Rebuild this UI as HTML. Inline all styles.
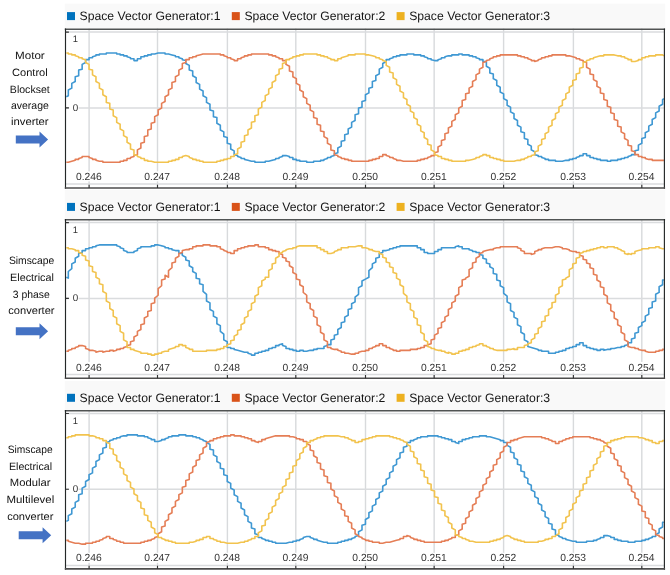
<!DOCTYPE html>
<html><head><meta charset="utf-8"><title>Space Vector Generator comparison</title>
<style>
html,body{margin:0;padding:0;background:#fff;}
body{width:670px;height:575px;position:relative;overflow:hidden;font-family:"Liberation Sans",sans-serif;}
svg text{font-family:"Liberation Sans",sans-serif;text-rendering:geometricPrecision;}
.tk{font-size:10.3px;fill:#333;}
.lg{font-size:12.2px;fill:#161616;}
.sd{font-size:10.6px;fill:#111;}
</style></head><body>
<svg width="670" height="575" viewBox="0 0 670 575" style="position:absolute;left:0;top:0;will-change:transform">
<rect x="64.8" y="3.60" width="600.40" height="25.40" fill="#f9f9f9"/>
<rect x="65" y="28.50" width="600" height="159.50" fill="#fff"/>
<path d="M89.10 28.50V188.00M157.50 28.50V188.00M227.40 28.50V188.00M295.80 28.50V188.00M365.50 28.50V188.00M434.15 28.50V188.00M503.60 28.50V188.00M573.40 28.50V188.00M641.80 28.50V188.00" stroke="#d8dadc" stroke-width="1.4" fill="none"/>
<path d="M65 32.10H665M65 107.90H665M65 184.10H665" stroke="#dadcde" stroke-width="1.5" fill="none"/>
<rect x="76.10" y="171.40" width="26" height="10" fill="#fff"/>
<rect x="144.50" y="171.40" width="26" height="10" fill="#fff"/>
<rect x="214.40" y="171.40" width="26" height="10" fill="#fff"/>
<rect x="282.80" y="171.40" width="26" height="10" fill="#fff"/>
<rect x="352.50" y="171.40" width="26" height="10" fill="#fff"/>
<rect x="421.15" y="171.40" width="26" height="10" fill="#fff"/>
<rect x="490.60" y="171.40" width="26" height="10" fill="#fff"/>
<rect x="560.40" y="171.40" width="26" height="10" fill="#fff"/>
<rect x="628.80" y="171.40" width="26" height="10" fill="#fff"/>
<rect x="69.2" y="103.00" width="9.4" height="9.6" fill="#fff"/>
<path d="M66.30 96.70L68.32 95.75L68.32 90.05L71.77 88.15L71.78 83.40L75.23 81.50L75.23 76.75L78.68 75.80L78.69 70.10L82.14 69.15L82.14 64.40L85.59 62.50L85.59 59.65L89.05 59.65L89.05 57.75L92.50 57.75L92.50 56.80L95.96 55.85L95.96 54.90L99.41 54.90L99.41 53.95L102.87 53.95L102.87 53.95L106.33 53.95L106.32 53.00L109.78 53.00L109.78 53.00L113.23 53.00L113.23 53.00L116.69 53.00L116.69 53.95L120.14 53.95L120.14 54.90L123.60 54.90L123.60 55.85L127.05 55.85L127.06 56.80L130.51 57.75L130.51 58.70L133.97 58.70L133.97 60.60L137.42 60.60L137.42 58.70L140.88 58.70L140.88 56.80L144.33 56.80L144.33 55.85L147.78 55.85L147.78 54.90L151.24 54.90L151.24 53.95L154.70 53.95L154.69 53.95L158.15 53.00L158.15 53.00L161.60 53.00L161.61 53.00L165.06 53.00L165.06 53.95L168.52 53.95L168.51 53.95L171.97 54.90L171.97 54.90L175.43 55.85L175.43 56.80L178.88 56.80L178.88 57.75L182.34 58.70L182.33 59.65L185.79 60.60L185.79 63.45L189.25 65.35L189.25 70.10L192.70 71.05L192.70 75.80L196.16 77.70L196.16 82.45L199.61 84.35L199.61 89.10L203.07 91.00L203.06 95.75L206.52 97.65L206.52 102.40L209.97 104.30L209.97 110.00L213.43 110.95L213.43 116.65L216.89 117.60L216.88 123.30L220.34 125.20L220.34 129.95L223.79 131.85L223.80 136.60L227.25 137.55L227.25 143.25L230.71 144.20L230.70 148.95L234.16 150.85L234.16 154.65L237.62 155.60L237.62 156.55L241.07 157.50L241.07 158.45L244.53 158.45L244.52 159.40L247.98 160.35L247.98 160.35L251.44 161.30L251.44 161.30L254.89 161.30L254.89 162.25L258.34 162.25L258.35 162.25L261.80 162.25L261.80 162.25L265.25 162.25L265.25 161.30L268.71 161.30L268.71 161.30L272.16 160.35L272.17 160.35L275.62 159.40L275.62 158.45L279.07 158.45L279.07 157.50L282.53 156.55L282.53 155.60L285.99 155.60L285.99 155.60L289.44 156.55L289.44 157.50L292.89 157.50L292.89 159.40L296.35 159.40L296.35 160.35L299.81 160.35L299.81 161.30L303.26 161.30L303.26 161.30L306.71 161.30L306.71 162.25L310.17 162.25L310.17 162.25L313.62 162.25L313.62 161.30L317.08 161.30L317.08 161.30L320.53 161.30L320.54 160.35L323.99 160.35L323.99 159.40L327.44 158.45L327.44 157.50L330.90 157.50L330.90 156.55L334.35 155.60L334.36 153.70L337.81 152.75L337.81 148.00L341.26 146.10L341.26 141.35L344.72 140.40L344.72 134.70L348.18 133.75L348.18 129.00L351.63 127.10L351.63 122.35L355.08 120.45L355.09 114.75L358.54 113.80L358.54 108.10L362.00 107.15L362.00 101.45L365.45 100.50L365.45 94.80L368.90 92.90L368.91 88.15L372.36 87.20L372.36 81.50L375.81 80.55L375.81 75.80L379.27 73.90L379.27 69.15L382.73 67.25L382.73 63.45L386.18 61.55L386.18 59.65L389.63 59.65L389.63 58.70L393.09 57.75L393.09 56.80L396.55 56.80L396.55 55.85L400.00 55.85L400.00 54.90L403.45 54.90L403.46 54.90L406.91 54.90L406.91 53.95L410.37 53.95L410.37 53.95L413.82 53.95L413.82 54.90L417.27 54.90L417.28 54.90L420.73 54.90L420.73 55.85L424.19 55.85L424.19 56.80L427.64 57.75L427.64 58.70L431.10 58.70L431.10 59.65L434.55 60.60L434.55 60.60L438.00 60.60L438.00 59.65L441.46 58.70L441.46 57.75L444.92 57.75L444.92 56.80L448.37 55.85L448.37 55.85L451.82 55.85L451.83 54.90L455.28 54.90L455.28 54.90L458.74 54.90L458.74 53.95L462.19 53.95L462.19 54.90L465.64 54.90L465.65 54.90L469.10 54.90L469.10 55.85L472.56 55.85L472.56 56.80L476.01 56.80L476.01 57.75L479.47 58.70L479.47 59.65L482.92 59.65L482.92 61.55L486.38 61.55L486.38 66.30L489.83 68.20L489.83 72.95L493.29 73.90L493.29 78.65L496.74 80.55L496.74 85.30L500.19 87.20L500.19 91.95L503.65 93.85L503.65 98.60L507.11 100.50L507.11 105.25L510.56 107.15L510.56 111.90L514.01 113.80L514.01 118.55L517.47 120.45L517.47 125.20L520.93 127.10L520.92 131.85L524.38 132.80L524.38 138.50L527.84 139.45L527.84 144.20L531.29 146.10L531.29 149.90L534.75 151.80L534.75 154.65L538.20 155.60L538.20 156.55L541.66 156.55L541.65 157.50L545.11 158.45L545.11 159.40L548.57 159.40L548.56 160.35L552.02 160.35L552.02 160.35L555.48 160.35L555.48 161.30L558.93 161.30L558.93 161.30L562.38 161.30L562.38 161.30L565.84 160.35L565.84 160.35L569.30 160.35L569.29 159.40L572.75 159.40L572.75 158.45L576.21 158.45L576.21 157.50L579.66 156.55L579.66 155.60L583.12 155.60L583.12 153.70L586.57 153.70L586.57 155.60L590.02 155.60L590.02 157.50L593.48 157.50L593.48 158.45L596.94 158.45L596.93 159.40L600.39 159.40L600.39 160.35L603.85 160.35L603.84 160.35L607.30 160.35L607.30 161.30L610.75 161.30L610.75 160.35L614.21 160.35L614.21 160.35L617.66 160.35L617.66 159.40L621.12 159.40L621.12 158.45L624.58 158.45L624.57 157.50L628.03 157.50L628.03 156.55L631.49 155.60L631.49 154.65L634.94 154.65L634.94 150.85L638.39 149.90L638.39 145.15L641.85 143.25L641.85 138.50L645.30 137.55L645.30 132.80L648.76 130.90L648.76 126.15L652.22 124.25L652.21 119.50L655.67 117.60L655.67 112.85L659.12 110.95L659.12 106.20L662.58 104.30L662.58 99.55L663.90 98.60" stroke="#3f98d3" stroke-width="1.6" fill="none" stroke-linejoin="round"/>
<path d="M66.30 162.25L68.32 162.25L68.32 162.25L71.77 161.30L71.78 161.30L75.23 160.35L75.23 159.40L78.68 159.40L78.69 158.45L82.14 157.50L82.14 156.55L85.59 156.55L85.59 156.55L89.05 156.55L89.05 157.50L92.50 158.45L92.50 159.40L95.96 159.40L95.96 160.35L99.41 161.30L99.41 161.30L102.87 161.30L102.87 162.25L106.33 162.25L106.32 162.25L109.78 162.25L109.78 162.25L113.23 162.25L113.23 162.25L116.69 162.25L116.69 162.25L120.14 162.25L120.14 161.30L123.60 161.30L123.60 160.35L127.05 160.35L127.06 158.45L130.51 158.45L130.51 157.50L133.97 156.55L133.97 155.60L137.42 154.65L137.42 149.90L140.88 148.00L140.88 143.25L144.33 142.30L144.33 136.60L147.78 135.65L147.78 129.95L151.24 129.00L151.24 123.30L154.70 122.35L154.69 116.65L158.15 114.75L158.15 110.00L161.60 108.10L161.61 103.35L165.06 101.45L165.06 96.70L168.52 94.80L168.51 90.05L171.97 88.15L171.97 82.45L175.43 81.50L175.43 76.75L178.88 74.85L178.88 70.10L182.34 68.20L182.33 63.45L185.79 62.50L185.79 59.65L189.25 59.65L189.25 57.75L192.70 57.75L192.70 56.80L196.16 56.80L196.16 55.85L199.61 54.90L199.61 54.90L203.07 53.95L203.06 53.95L206.52 53.95L206.52 53.95L209.97 53.95L209.97 53.95L213.43 53.95L213.43 53.95L216.89 53.95L216.88 53.95L220.34 53.95L220.34 54.90L223.79 54.90L223.80 55.85L227.25 56.80L227.25 57.75L230.71 57.75L230.70 58.70L234.16 59.65L234.16 60.60L237.62 60.60L237.62 58.70L241.07 58.70L241.07 57.75L244.53 56.80L244.52 55.85L247.98 55.85L247.98 54.90L251.44 54.90L251.44 53.95L254.89 53.95L254.89 53.95L258.34 53.95L258.35 53.95L261.80 53.95L261.80 53.95L265.25 53.95L265.25 53.95L268.71 53.95L268.71 54.90L272.16 54.90L272.17 55.85L275.62 55.85L275.62 56.80L279.07 57.75L279.07 58.70L282.53 58.70L282.53 60.60L285.99 60.60L285.99 64.40L289.44 66.30L289.44 71.05L292.89 72.00L292.89 76.75L296.35 78.65L296.35 83.40L299.81 85.30L299.81 90.05L303.26 91.95L303.26 96.70L306.71 98.60L306.71 103.35L310.17 105.25L310.17 110.00L313.62 111.90L313.62 117.60L317.08 118.55L317.08 124.25L320.53 125.20L320.54 130.90L323.99 131.85L323.99 136.60L327.44 138.50L327.44 143.25L330.90 145.15L330.90 149.90L334.35 150.85L334.36 154.65L337.81 155.60L337.81 156.55L341.26 157.50L341.26 158.45L344.72 158.45L344.72 159.40L348.18 159.40L348.18 160.35L351.63 160.35L351.63 161.30L355.08 161.30L355.09 161.30L358.54 161.30L358.54 161.30L362.00 161.30L362.00 161.30L365.45 161.30L365.45 161.30L368.90 161.30L368.91 160.35L372.36 160.35L372.36 159.40L375.81 159.40L375.81 158.45L379.27 158.45L379.27 156.55L382.73 156.55L382.73 154.65L386.18 154.65L386.18 155.60L389.63 156.55L389.63 157.50L393.09 157.50L393.09 158.45L396.55 159.40L396.55 160.35L400.00 160.35L400.00 160.35L403.45 161.30L403.46 161.30L406.91 161.30L406.91 161.30L410.37 161.30L410.37 161.30L413.82 161.30L413.82 161.30L417.27 161.30L417.28 160.35L420.73 160.35L420.73 159.40L424.19 159.40L424.19 158.45L427.64 158.45L427.64 157.50L431.10 156.55L431.10 155.60L434.55 155.60L434.55 152.75L438.00 151.80L438.00 147.05L441.46 145.15L441.46 140.40L444.92 139.45L444.92 133.75L448.37 132.80L448.37 128.05L451.82 126.15L451.83 121.40L455.28 119.50L455.28 114.75L458.74 112.85L458.74 108.10L462.19 106.20L462.19 100.50L465.64 99.55L465.65 93.85L469.10 92.90L469.10 88.15L472.56 86.25L472.56 81.50L476.01 79.60L476.01 74.85L479.47 72.95L479.47 69.15L482.92 67.25L482.92 62.50L486.38 61.55L486.38 60.60L489.83 59.65L489.83 58.70L493.29 57.75L493.29 56.80L496.74 56.80L496.74 55.85L500.19 55.85L500.19 54.90L503.65 54.90L503.65 54.90L507.11 54.90L507.11 54.90L510.56 54.90L510.56 54.90L514.01 54.90L514.01 54.90L517.47 54.90L517.47 55.85L520.93 55.85L520.92 56.80L524.38 56.80L524.38 57.75L527.84 57.75L527.84 58.70L531.29 59.65L531.29 60.60L534.75 60.60L534.75 61.55L538.20 60.60L538.20 59.65L541.66 58.70L541.65 57.75L545.11 57.75L545.11 56.80L548.57 56.80L548.56 55.85L552.02 55.85L552.02 54.90L555.48 54.90L555.48 54.90L558.93 54.90L558.93 54.90L562.38 54.90L562.38 54.90L565.84 54.90L565.84 55.85L569.30 55.85L569.29 55.85L572.75 56.80L572.75 56.80L576.21 57.75L576.21 58.70L579.66 58.70L579.66 59.65L583.12 60.60L583.12 61.55L586.57 62.50L586.57 67.25L590.02 69.15L590.02 73.90L593.48 74.85L593.48 79.60L596.94 81.50L596.93 86.25L600.39 88.15L600.39 92.90L603.85 93.85L603.84 99.55L607.30 100.50L607.30 106.20L610.75 107.15L610.75 112.85L614.21 113.80L614.21 119.50L617.66 120.45L617.66 126.15L621.12 127.10L621.12 131.85L624.58 133.75L624.57 138.50L628.03 140.40L628.03 145.15L631.49 146.10L631.49 150.85L634.94 151.80L634.94 154.65L638.39 154.65L638.39 156.55L641.85 156.55L641.85 157.50L645.30 157.50L645.30 158.45L648.76 159.40L648.76 159.40L652.22 159.40L652.21 160.35L655.67 160.35L655.67 160.35L659.12 160.35L659.12 160.35L662.58 160.35L662.58 160.35L663.90 160.35" stroke="#e57e56" stroke-width="1.6" fill="none" stroke-linejoin="round"/>
<path d="M66.30 53.00L68.32 53.00L68.32 53.95L71.77 53.95L71.78 54.90L75.23 54.90L75.23 55.85L78.68 56.80L78.69 57.75L82.14 57.75L82.14 58.70L85.59 59.65L85.59 62.50L89.05 64.40L89.05 69.15L92.50 70.10L92.50 74.85L95.96 76.75L95.96 81.50L99.41 83.40L99.41 88.15L102.87 90.05L102.87 94.80L106.33 96.70L106.32 102.40L109.78 103.35L109.78 109.05L113.23 110.00L113.23 115.70L116.69 117.60L116.69 122.35L120.14 124.25L120.14 129.00L123.60 130.90L123.60 135.65L127.05 137.55L127.06 142.30L130.51 144.20L130.51 148.95L133.97 149.90L133.97 154.65L137.42 155.60L137.42 156.55L140.88 157.50L140.88 158.45L144.33 158.45L144.33 160.35L147.78 160.35L147.78 161.30L151.24 161.30L151.24 161.30L154.70 162.25L154.69 162.25L158.15 162.25L158.15 162.25L161.60 162.25L161.61 162.25L165.06 162.25L165.06 162.25L168.52 162.25L168.51 161.30L171.97 161.30L171.97 160.35L175.43 160.35L175.43 159.40L178.88 159.40L178.88 157.50L182.34 157.50L182.33 156.55L185.79 155.60L185.79 155.60L189.25 156.55L189.25 157.50L192.70 158.45L192.70 159.40L196.16 159.40L196.16 160.35L199.61 160.35L199.61 161.30L203.07 161.30L203.06 162.25L206.52 162.25L206.52 162.25L209.97 162.25L209.97 162.25L213.43 162.25L213.43 162.25L216.89 162.25L216.88 161.30L220.34 161.30L220.34 160.35L223.79 160.35L223.80 159.40L227.25 159.40L227.25 158.45L230.71 158.45L230.70 156.55L234.16 156.55L234.16 154.65L237.62 153.70L237.62 148.95L241.07 147.05L241.07 142.30L244.53 141.35L244.52 135.65L247.98 134.70L247.98 129.95L251.44 128.05L251.44 122.35L254.89 121.40L254.89 115.70L258.34 114.75L258.35 109.05L261.80 107.15L261.80 102.40L265.25 100.50L265.25 95.75L268.71 93.85L268.71 89.10L272.16 87.20L272.17 82.45L275.62 80.55L275.62 75.80L279.07 73.90L279.07 69.15L282.53 68.20L282.53 63.45L285.99 62.50L285.99 59.65L289.44 59.65L289.44 58.70L292.89 57.75L292.89 56.80L296.35 56.80L296.35 55.85L299.81 55.85L299.81 54.90L303.26 54.90L303.26 53.95L306.71 53.95L306.71 53.95L310.17 53.95L310.17 53.95L313.62 53.95L313.62 53.95L317.08 53.95L317.08 54.90L320.53 54.90L320.54 55.85L323.99 55.85L323.99 56.80L327.44 56.80L327.44 57.75L330.90 58.70L330.90 59.65L334.35 59.65L334.36 60.60L337.81 60.60L337.81 58.70L341.26 58.70L341.26 57.75L344.72 56.80L344.72 56.80L348.18 55.85L348.18 54.90L351.63 54.90L351.63 54.90L355.08 54.90L355.09 53.95L358.54 53.95L358.54 53.95L362.00 53.95L362.00 53.95L365.45 53.95L365.45 54.90L368.90 54.90L368.91 54.90L372.36 55.85L372.36 55.85L375.81 56.80L375.81 57.75L379.27 57.75L379.27 58.70L382.73 59.65L382.73 60.60L386.18 61.55L386.18 65.35L389.63 67.25L389.63 72.00L393.09 72.95L393.09 77.70L396.55 79.60L396.55 84.35L400.00 86.25L400.00 91.00L403.45 92.90L403.46 97.65L406.91 99.55L406.91 104.30L410.37 106.20L410.37 110.95L413.82 112.85L413.82 117.60L417.27 119.50L417.28 124.25L420.73 126.15L420.73 130.90L424.19 132.80L424.19 137.55L427.64 139.45L427.64 144.20L431.10 145.15L431.10 149.90L434.55 151.80L434.55 154.65L438.00 155.60L438.00 156.55L441.46 156.55L441.46 158.45L444.92 158.45L444.92 159.40L448.37 159.40L448.37 160.35L451.82 160.35L451.83 161.30L455.28 161.30L455.28 161.30L458.74 161.30L458.74 161.30L462.19 161.30L462.19 161.30L465.64 161.30L465.65 160.35L469.10 160.35L469.10 160.35L472.56 159.40L472.56 159.40L476.01 158.45L476.01 157.50L479.47 157.50L479.47 156.55L482.92 155.60L482.92 154.65L486.38 154.65L486.38 155.60L489.83 155.60L489.83 157.50L493.29 157.50L493.29 158.45L496.74 158.45L496.74 159.40L500.19 159.40L500.19 160.35L503.65 160.35L503.65 161.30L507.11 161.30L507.11 161.30L510.56 161.30L510.56 161.30L514.01 161.30L514.01 161.30L517.47 160.35L517.47 160.35L520.93 160.35L520.92 159.40L524.38 159.40L524.38 158.45L527.84 157.50L527.84 156.55L531.29 156.55L531.29 155.60L534.75 154.65L534.75 151.80L538.20 150.85L538.20 146.10L541.66 144.20L541.65 139.45L545.11 138.50L545.11 133.75L548.57 131.85L548.56 127.10L552.02 125.20L552.02 120.45L555.48 118.55L555.48 113.80L558.93 111.90L558.93 107.15L562.38 105.25L562.38 100.50L565.84 98.60L565.84 93.85L569.30 91.95L569.29 87.20L572.75 85.30L572.75 80.55L576.21 79.60L576.21 73.90L579.66 72.95L579.66 68.20L583.12 67.25L583.12 62.50L586.57 61.55L586.57 60.60L590.02 59.65L590.02 58.70L593.48 58.70L593.48 57.75L596.94 56.80L596.93 56.80L600.39 55.85L600.39 55.85L603.85 55.85L603.84 54.90L607.30 54.90L607.30 54.90L610.75 54.90L610.75 54.90L614.21 54.90L614.21 54.90L617.66 55.85L617.66 55.85L621.12 55.85L621.12 56.80L624.58 56.80L624.57 57.75L628.03 58.70L628.03 59.65L631.49 59.65L631.49 61.55L634.94 61.55L634.94 61.55L638.39 60.60L638.39 59.65L641.85 59.65L641.85 57.75L645.30 57.75L645.30 56.80L648.76 56.80L648.76 55.85L652.22 55.85L652.21 55.85L655.67 55.85L655.67 54.90L659.12 54.90L659.12 54.90L662.58 54.90L662.58 54.90L663.90 55.85" stroke="#f2c34e" stroke-width="1.6" fill="none" stroke-linejoin="round"/>
<path d="M64.8 29.25H665.1" stroke="#505353" stroke-width="1.5" fill="none"/>
<path d="M65.5 28.50V188.80M664.4 28.50V188.80" stroke="#242727" stroke-width="1.15" fill="none"/>
<path d="M64.8 188.00H665.1" stroke="#4d4d4d" stroke-width="1.7" fill="none"/>
<path d="M89.10 184.80V188.00M157.50 184.80V188.00M227.40 184.80V188.00M295.80 184.80V188.00M365.50 184.80V188.00M434.15 184.80V188.00M503.60 184.80V188.00M573.40 184.80V188.00M641.80 184.80V188.00M65.5 32.10H68.9M65.5 107.90H68.9" stroke="#333" stroke-width="1.1" fill="none"/>
<text x="88.80" y="180.00" text-anchor="middle" class="tk">0.246</text>
<text x="157.20" y="180.00" text-anchor="middle" class="tk">0.247</text>
<text x="227.10" y="180.00" text-anchor="middle" class="tk">0.248</text>
<text x="295.50" y="180.00" text-anchor="middle" class="tk">0.249</text>
<text x="365.20" y="180.00" text-anchor="middle" class="tk">0.250</text>
<text x="433.85" y="180.00" text-anchor="middle" class="tk">0.251</text>
<text x="503.30" y="180.00" text-anchor="middle" class="tk">0.252</text>
<text x="573.10" y="180.00" text-anchor="middle" class="tk">0.253</text>
<text x="641.50" y="180.00" text-anchor="middle" class="tk">0.254</text>
<text x="72.8" y="42.30" class="tk" style="font-size:9.4px">1</text>
<text x="72.7" y="110.60" class="tk" style="font-size:9.8px">0</text>
<rect x="67.00" y="12.10" width="8" height="8" fill="#0072BD"/>
<text x="79.60" y="20.30" class="lg">Space Vector Generator:1</text>
<rect x="231.80" y="12.10" width="8" height="8" fill="#D95319"/>
<text x="244.40" y="20.30" class="lg">Space Vector Generator:2</text>
<rect x="396.60" y="12.10" width="8" height="8" fill="#EDB120"/>
<text x="409.20" y="20.30" class="lg">Space Vector Generator:3</text>
<rect x="64.8" y="190.00" width="600.40" height="29.50" fill="#f9f9f9"/>
<rect x="65" y="219.00" width="600" height="159.25" fill="#fff"/>
<path d="M89.10 219.00V378.25M157.50 219.00V378.25M227.40 219.00V378.25M295.80 219.00V378.25M365.50 219.00V378.25M434.15 219.00V378.25M503.60 219.00V378.25M573.40 219.00V378.25M641.80 219.00V378.25" stroke="#d8dadc" stroke-width="1.4" fill="none"/>
<path d="M65 222.60H665M65 298.40H665M65 374.60H665" stroke="#dadcde" stroke-width="1.5" fill="none"/>
<rect x="76.10" y="361.90" width="26" height="10" fill="#fff"/>
<rect x="144.50" y="361.90" width="26" height="10" fill="#fff"/>
<rect x="214.40" y="361.90" width="26" height="10" fill="#fff"/>
<rect x="282.80" y="361.90" width="26" height="10" fill="#fff"/>
<rect x="352.50" y="361.90" width="26" height="10" fill="#fff"/>
<rect x="421.15" y="361.90" width="26" height="10" fill="#fff"/>
<rect x="490.60" y="361.90" width="26" height="10" fill="#fff"/>
<rect x="560.40" y="361.90" width="26" height="10" fill="#fff"/>
<rect x="628.80" y="361.90" width="26" height="10" fill="#fff"/>
<rect x="69.2" y="293.50" width="9.4" height="9.6" fill="#fff"/>
<path d="M66.30 277.20L68.32 278.15L68.32 271.50L71.77 268.65L71.78 263.90L75.23 262.00L75.23 258.20L78.68 256.30L78.69 253.45L82.14 252.50L82.14 250.60L85.59 250.60L85.59 248.70L89.05 248.70L89.05 247.75L92.50 247.75L92.50 246.80L95.96 246.80L95.96 245.85L99.41 244.90L99.41 244.90L102.87 244.90L102.87 244.90L106.33 244.90L106.32 244.90L109.78 244.90L109.78 244.90L113.23 244.90L113.23 244.90L116.69 244.90L116.69 245.85L120.14 246.80L120.14 247.75L123.60 248.70L123.60 250.60L127.05 251.55L127.06 252.50L130.51 252.50L130.51 252.50L133.97 252.50L133.97 251.55L137.42 250.60L137.42 248.70L140.88 247.75L140.88 246.80L144.33 246.80L144.33 246.80L147.78 246.80L147.78 246.80L151.24 246.80L151.24 245.85L154.70 245.85L154.69 244.90L158.15 244.90L158.15 244.90L161.60 245.85L161.61 245.85L165.06 246.80L165.06 247.75L168.52 247.75L168.51 248.70L171.97 248.70L171.97 249.65L175.43 250.60L175.43 250.60L178.88 250.60L178.88 253.45L182.34 253.45L182.33 255.35L185.79 257.25L185.79 260.10L189.25 261.05L189.25 265.80L192.70 267.70L192.70 271.50L196.16 273.40L196.16 278.15L199.61 279.10L199.61 283.85L203.07 284.80L203.06 291.45L206.52 294.30L206.52 300.95L209.97 302.85L209.97 309.50L213.43 311.40L213.43 316.15L216.89 318.05L216.88 323.75L220.34 325.65L220.34 331.35L223.79 334.20L223.80 339.90L227.25 341.80L227.25 347.50L230.71 347.50L230.70 348.45L234.16 348.45L234.16 349.40L237.62 350.35L237.62 350.35L241.07 351.30L241.07 351.30L244.53 352.25L244.52 352.25L247.98 352.25L247.98 353.20L251.44 354.15L251.44 355.10L254.89 355.10L254.89 353.20L258.34 353.20L258.35 352.25L261.80 352.25L261.80 351.30L265.25 351.30L265.25 350.35L268.71 350.35L268.71 348.45L272.16 348.45L272.17 347.50L275.62 347.50L275.62 345.60L279.07 345.60L279.07 344.65L282.53 343.70L282.53 345.60L285.99 346.55L285.99 348.45L289.44 348.45L289.44 349.40L292.89 349.40L292.89 350.35L296.35 350.35L296.35 351.30L299.81 351.30L299.81 350.35L303.26 350.35L303.26 351.30L306.71 351.30L306.71 351.30L310.17 350.35L310.17 350.35L313.62 350.35L313.62 349.40L317.08 349.40L317.08 348.45L320.53 348.45L320.54 348.45L323.99 348.45L323.99 346.55L327.44 345.60L327.44 344.65L330.90 344.65L330.90 339.90L334.35 338.95L334.36 335.15L337.81 334.20L337.81 329.45L341.26 327.55L341.26 322.80L344.72 321.85L344.72 317.10L348.18 315.20L348.18 309.50L351.63 308.55L351.63 303.80L355.08 301.90L355.09 297.15L358.54 294.30L358.54 287.65L362.00 285.75L362.00 281.00L365.45 279.10L365.45 279.10L368.90 277.20L368.91 270.55L372.36 267.70L372.36 263.90L375.81 262.00L375.81 258.20L379.27 257.25L379.27 253.45L382.73 252.50L382.73 250.60L386.18 250.60L386.18 250.60L389.63 249.65L389.63 248.70L393.09 248.70L393.09 247.75L396.55 247.75L396.55 246.80L400.00 246.80L400.00 245.85L403.45 245.85L403.46 245.85L406.91 245.85L406.91 245.85L410.37 245.85L410.37 245.85L413.82 245.85L413.82 245.85L417.27 245.85L417.28 247.75L420.73 247.75L420.73 249.65L424.19 249.65L424.19 252.50L427.64 252.50L427.64 253.45L431.10 253.45L431.10 253.45L434.55 253.45L434.55 251.55L438.00 251.55L438.00 249.65L441.46 249.65L441.46 247.75L444.92 247.75L444.92 247.75L448.37 247.75L448.37 247.75L451.82 247.75L451.83 247.75L455.28 247.75L455.28 246.80L458.74 245.85L458.74 246.80L462.19 246.80L462.19 248.70L465.64 248.70L465.65 248.70L469.10 248.70L469.10 249.65L472.56 250.60L472.56 251.55L476.01 251.55L476.01 252.50L479.47 252.50L479.47 254.40L482.92 255.35L482.92 258.20L486.38 259.15L486.38 262.95L489.83 263.90L489.83 266.75L493.29 268.65L493.29 273.40L496.74 274.35L496.74 280.05L500.19 281.00L500.19 285.75L503.65 287.65L503.65 293.35L507.11 296.20L507.11 301.90L510.56 303.80L510.56 310.45L514.01 312.35L514.01 317.10L517.47 319.00L517.47 324.70L520.93 326.60L520.92 332.30L524.38 334.20L524.38 339.90L527.84 341.80L527.84 346.55L531.29 347.50L531.29 347.50L534.75 348.45L534.75 348.45L538.20 349.40L538.20 350.35L541.66 350.35L541.65 351.30L545.11 351.30L545.11 351.30L548.57 351.30L548.56 353.20L552.02 353.20L552.02 353.20L555.48 353.20L555.48 352.25L558.93 352.25L558.93 351.30L562.38 351.30L562.38 350.35L565.84 350.35L565.84 348.45L569.30 348.45L569.29 347.50L572.75 347.50L572.75 346.55L576.21 346.55L576.21 344.65L579.66 344.65L579.66 342.75L583.12 342.75L583.12 345.60L586.57 345.60L586.57 347.50L590.02 347.50L590.02 348.45L593.48 348.45L593.48 349.40L596.94 349.40L596.93 350.35L600.39 350.35L600.39 349.40L603.85 349.40L603.84 350.35L607.30 349.40L607.30 349.40L610.75 349.40L610.75 348.45L614.21 348.45L614.21 348.45L617.66 347.50L617.66 347.50L621.12 347.50L621.12 346.55L624.58 346.55L624.57 345.60L628.03 344.65L628.03 342.75L631.49 342.75L631.49 338.95L634.94 338.00L634.94 333.25L638.39 332.30L638.39 327.55L641.85 325.65L641.85 322.80L645.30 320.90L645.30 316.15L648.76 314.25L648.76 308.55L652.22 307.60L652.21 301.90L655.67 300.95L655.67 294.30L659.12 292.40L659.12 286.70L662.58 284.80L662.58 280.05L663.90 280.05" stroke="#3f98d3" stroke-width="1.6" fill="none" stroke-linejoin="round"/>
<path d="M66.30 351.30L68.32 351.30L68.32 350.35L71.77 349.40L71.78 348.45L75.23 348.45L75.23 347.50L78.68 346.55L78.69 345.60L82.14 345.60L82.14 345.60L85.59 346.55L85.59 348.45L89.05 349.40L89.05 350.35L92.50 350.35L92.50 350.35L95.96 351.30L95.96 352.25L99.41 351.30L99.41 351.30L102.87 351.30L102.87 352.25L106.33 351.30L106.32 351.30L109.78 351.30L109.78 350.35L113.23 350.35L113.23 351.30L116.69 350.35L116.69 349.40L120.14 349.40L120.14 348.45L123.60 348.45L123.60 347.50L127.05 346.55L127.06 345.60L130.51 344.65L130.51 341.80L133.97 340.85L133.97 337.05L137.42 335.15L137.42 331.35L140.88 329.45L140.88 324.70L144.33 323.75L144.33 318.05L147.78 316.15L147.78 311.40L151.24 310.45L151.24 303.80L154.70 302.85L154.69 298.10L158.15 295.25L158.15 288.60L161.60 285.75L161.61 280.05L165.06 279.10L165.06 275.30L168.52 277.20L168.51 270.55L171.97 267.70L171.97 262.95L175.43 262.00L175.43 258.20L178.88 256.30L178.88 253.45L182.34 252.50L182.33 250.60L185.79 249.65L185.79 249.65L189.25 249.65L189.25 248.70L192.70 248.70L192.70 246.80L196.16 246.80L196.16 245.85L199.61 245.85L199.61 245.85L203.07 245.85L203.06 244.90L206.52 244.90L206.52 244.90L209.97 244.90L209.97 245.85L213.43 245.85L213.43 245.85L216.89 245.85L216.88 246.80L220.34 246.80L220.34 248.70L223.79 249.65L223.80 250.60L227.25 251.55L227.25 252.50L230.71 252.50L230.70 253.45L234.16 253.45L234.16 250.60L237.62 250.60L237.62 248.70L241.07 248.70L241.07 247.75L244.53 247.75L244.52 246.80L247.98 246.80L247.98 245.85L251.44 245.85L251.44 245.85L254.89 245.85L254.89 244.90L258.34 244.90L258.35 246.80L261.80 246.80L261.80 246.80L265.25 246.80L265.25 247.75L268.71 247.75L268.71 249.65L272.16 249.65L272.17 250.60L275.62 250.60L275.62 251.55L279.07 251.55L279.07 253.45L282.53 254.40L282.53 257.25L285.99 258.20L285.99 261.05L289.44 262.00L289.44 265.80L292.89 267.70L292.89 272.45L296.35 274.35L296.35 279.10L299.81 280.05L299.81 284.80L303.26 286.70L303.26 292.40L306.71 295.25L306.71 301.90L310.17 303.80L310.17 308.55L313.62 310.45L313.62 316.15L317.08 318.05L317.08 324.70L320.53 326.60L320.54 332.30L323.99 334.20L323.99 339.90L327.44 341.80L327.44 347.50L330.90 347.50L330.90 348.45L334.35 349.40L334.36 349.40L337.81 349.40L337.81 350.35L341.26 351.30L341.26 352.25L344.72 352.25L344.72 353.20L348.18 353.20L348.18 353.20L351.63 354.15L351.63 354.15L355.08 354.15L355.09 353.20L358.54 353.20L358.54 352.25L362.00 351.30L362.00 351.30L365.45 351.30L365.45 350.35L368.90 350.35L368.91 348.45L372.36 348.45L372.36 347.50L375.81 346.55L375.81 345.60L379.27 345.60L379.27 343.70L382.73 343.70L382.73 345.60L386.18 345.60L386.18 347.50L389.63 347.50L389.63 348.45L393.09 349.40L393.09 350.35L396.55 350.35L396.55 351.30L400.00 351.30L400.00 350.35L403.45 350.35L403.46 350.35L406.91 350.35L406.91 350.35L410.37 350.35L410.37 349.40L413.82 349.40L413.82 349.40L417.27 349.40L417.28 348.45L420.73 348.45L420.73 347.50L424.19 347.50L424.19 345.60L427.64 345.60L427.64 344.65L431.10 343.70L431.10 339.90L434.55 338.95L434.55 335.15L438.00 333.25L438.00 328.50L441.46 327.55L441.46 322.80L444.92 320.90L444.92 317.10L448.37 315.20L448.37 309.50L451.82 307.60L451.83 302.85L455.28 300.95L455.28 296.20L458.74 294.30L458.74 287.65L462.19 285.75L462.19 280.05L465.64 279.10L465.65 278.15L469.10 276.25L469.10 269.60L472.56 267.70L472.56 262.95L476.01 262.00L476.01 258.20L479.47 256.30L479.47 253.45L482.92 252.50L482.92 251.55L486.38 250.60L486.38 250.60L489.83 249.65L489.83 249.65L493.29 249.65L493.29 248.70L496.74 247.75L496.74 247.75L500.19 247.75L500.19 246.80L503.65 246.80L503.65 246.80L507.11 246.80L507.11 246.80L510.56 246.80L510.56 246.80L514.01 246.80L514.01 246.80L517.47 246.80L517.47 247.75L520.93 248.70L520.92 250.60L524.38 251.55L524.38 253.45L527.84 253.45L527.84 253.45L531.29 253.45L531.29 254.40L534.75 253.45L534.75 251.55L538.20 250.60L538.20 249.65L541.66 249.65L541.65 248.70L545.11 247.75L545.11 247.75L548.57 247.75L548.56 247.75L552.02 247.75L552.02 247.75L555.48 246.80L555.48 246.80L558.93 246.80L558.93 246.80L562.38 247.75L562.38 248.70L565.84 248.70L565.84 248.70L569.30 249.65L569.29 250.60L572.75 251.55L572.75 251.55L576.21 251.55L576.21 252.50L579.66 252.50L579.66 255.35L583.12 256.30L583.12 259.15L586.57 260.10L586.57 262.95L590.02 263.90L590.02 267.70L593.48 268.65L593.48 274.35L596.94 275.30L596.93 280.05L600.39 281.95L600.39 286.70L603.85 287.65L603.84 294.30L607.30 296.20L607.30 302.85L610.75 304.75L610.75 310.45L614.21 312.35L614.21 318.05L617.66 319.95L617.66 324.70L621.12 326.60L621.12 332.30L624.58 334.20L624.57 339.90L628.03 341.80L628.03 346.55L631.49 347.50L631.49 347.50L634.94 347.50L634.94 348.45L638.39 348.45L638.39 349.40L641.85 350.35L641.85 350.35L645.30 350.35L645.30 351.30L648.76 352.25L648.76 352.25L652.22 352.25L652.21 352.25L655.67 352.25L655.67 351.30L659.12 351.30L659.12 350.35L662.58 350.35L662.58 349.40L663.90 349.40" stroke="#e57e56" stroke-width="1.6" fill="none" stroke-linejoin="round"/>
<path d="M66.30 247.75L68.32 247.75L68.32 248.70L71.77 248.70L71.78 248.70L75.23 249.65L75.23 250.60L78.68 250.60L78.69 252.50L82.14 253.45L82.14 255.35L85.59 256.30L85.59 260.10L89.05 261.05L89.05 265.80L92.50 266.75L92.50 271.50L95.96 272.45L95.96 277.20L99.41 279.10L99.41 283.85L102.87 284.80L102.87 291.45L106.33 293.35L106.32 300.95L109.78 302.85L109.78 308.55L113.23 310.45L113.23 316.15L116.69 318.05L116.69 323.75L120.14 325.65L120.14 331.35L123.60 333.25L123.60 339.90L127.05 341.80L127.06 347.50L130.51 347.50L130.51 349.40L133.97 349.40L133.97 350.35L137.42 351.30L137.42 351.30L140.88 352.25L140.88 353.20L144.33 353.20L144.33 353.20L147.78 353.20L147.78 354.15L151.24 354.15L151.24 355.10L154.70 355.10L154.69 354.15L158.15 354.15L158.15 353.20L161.60 353.20L161.61 352.25L165.06 351.30L165.06 351.30L168.52 351.30L168.51 349.40L171.97 348.45L171.97 348.45L175.43 347.50L175.43 346.55L178.88 346.55L178.88 344.65L182.34 344.65L182.33 345.60L185.79 345.60L185.79 347.50L189.25 348.45L189.25 349.40L192.70 349.40L192.70 351.30L196.16 351.30L196.16 351.30L199.61 351.30L199.61 351.30L203.07 351.30L203.06 351.30L206.52 351.30L206.52 350.35L209.97 350.35L209.97 350.35L213.43 350.35L213.43 350.35L216.89 350.35L216.88 349.40L220.34 349.40L220.34 348.45L223.79 348.45L223.80 346.55L227.25 346.55L227.25 344.65L230.71 343.70L230.70 340.85L234.16 339.90L234.16 336.10L237.62 334.20L237.62 330.40L241.07 329.45L241.07 324.70L244.53 322.80L244.52 318.05L247.98 316.15L247.98 311.40L251.44 309.50L251.44 303.80L254.89 301.90L254.89 296.20L258.34 294.30L258.35 287.65L261.80 285.75L261.80 281.00L265.25 279.10L265.25 277.20L268.71 277.20L268.71 270.55L272.16 268.65L272.17 263.90L275.62 262.95L275.62 258.20L279.07 256.30L279.07 253.45L282.53 252.50L282.53 251.55L285.99 250.60L285.99 249.65L289.44 248.70L289.44 248.70L292.89 248.70L292.89 247.75L296.35 247.75L296.35 246.80L299.81 245.85L299.81 245.85L303.26 245.85L303.26 245.85L306.71 245.85L306.71 245.85L310.17 245.85L310.17 245.85L313.62 245.85L313.62 245.85L317.08 245.85L317.08 247.75L320.53 247.75L320.54 249.65L323.99 249.65L323.99 251.55L327.44 251.55L327.44 253.45L330.90 253.45L330.90 253.45L334.35 252.50L334.36 251.55L337.81 250.60L337.81 249.65L341.26 249.65L341.26 247.75L344.72 247.75L344.72 247.75L348.18 247.75L348.18 246.80L351.63 246.80L351.63 246.80L355.08 246.80L355.09 246.80L358.54 245.85L358.54 245.85L362.00 245.85L362.00 247.75L365.45 247.75L365.45 247.75L368.90 248.70L368.91 249.65L372.36 249.65L372.36 250.60L375.81 251.55L375.81 251.55L379.27 251.55L379.27 253.45L382.73 254.40L382.73 257.25L386.18 258.20L386.18 262.00L389.63 262.95L389.63 266.75L393.09 267.70L393.09 272.45L396.55 273.40L396.55 278.15L400.00 280.05L400.00 284.80L403.45 286.70L403.46 293.35L406.91 296.20L406.91 301.90L410.37 303.80L410.37 309.50L413.82 311.40L413.82 317.10L417.27 319.00L417.28 324.70L420.73 325.65L420.73 332.30L424.19 334.20L424.19 339.90L427.64 341.80L427.64 346.55L431.10 347.50L431.10 348.45L434.55 348.45L434.55 349.40L438.00 350.35L438.00 350.35L441.46 350.35L441.46 351.30L444.92 351.30L444.92 352.25L448.37 353.20L448.37 352.25L451.82 353.20L451.83 354.15L455.28 354.15L455.28 353.20L458.74 353.20L458.74 351.30L462.19 351.30L462.19 350.35L465.64 350.35L465.65 349.40L469.10 349.40L469.10 347.50L472.56 347.50L472.56 346.55L476.01 346.55L476.01 345.60L479.47 344.65L479.47 343.70L482.92 343.70L482.92 345.60L486.38 345.60L486.38 346.55L489.83 347.50L489.83 348.45L493.29 348.45L493.29 349.40L496.74 350.35L496.74 350.35L500.19 350.35L500.19 350.35L503.65 350.35L503.65 350.35L507.11 350.35L507.11 349.40L510.56 349.40L510.56 349.40L514.01 348.45L514.01 349.40L517.47 349.40L517.47 347.50L520.93 347.50L520.92 347.50L524.38 347.50L524.38 345.60L527.84 344.65L527.84 343.70L531.29 342.75L531.29 339.90L534.75 338.00L534.75 334.20L538.20 333.25L538.20 328.50L541.66 326.60L541.65 321.85L545.11 320.90L545.11 316.15L548.57 315.20L548.56 309.50L552.02 307.60L552.02 302.85L555.48 301.90L555.48 295.25L558.93 293.35L558.93 287.65L562.38 285.75L562.38 280.05L565.84 279.10L565.84 278.15L569.30 276.25L569.29 269.60L572.75 267.70L572.75 263.90L576.21 262.95L576.21 258.20L579.66 257.25L579.66 253.45L583.12 252.50L583.12 251.55L586.57 251.55L586.57 250.60L590.02 250.60L590.02 249.65L593.48 249.65L593.48 248.70L596.94 248.70L596.93 247.75L600.39 247.75L600.39 246.80L603.85 246.80L603.84 247.75L607.30 247.75L607.30 246.80L610.75 246.80L610.75 246.80L614.21 246.80L614.21 247.75L617.66 247.75L617.66 248.70L621.12 249.65L621.12 250.60L624.58 251.55L624.57 253.45L628.03 254.40L628.03 253.45L631.49 254.40L631.49 253.45L634.94 253.45L634.94 251.55L638.39 250.60L638.39 250.60L641.85 249.65L641.85 248.70L645.30 248.70L645.30 248.70L648.76 248.70L648.76 247.75L652.22 247.75L652.21 247.75L655.67 247.75L655.67 246.80L659.12 246.80L659.12 247.75L662.58 248.70L662.58 248.70L663.90 248.70" stroke="#f2c34e" stroke-width="1.6" fill="none" stroke-linejoin="round"/>
<path d="M64.8 219.75H665.1" stroke="#505353" stroke-width="1.5" fill="none"/>
<path d="M65.5 219.00V379.05M664.4 219.00V379.05" stroke="#242727" stroke-width="1.15" fill="none"/>
<path d="M64.8 378.25H665.1" stroke="#4d4d4d" stroke-width="1.7" fill="none"/>
<path d="M89.10 375.05V378.25M157.50 375.05V378.25M227.40 375.05V378.25M295.80 375.05V378.25M365.50 375.05V378.25M434.15 375.05V378.25M503.60 375.05V378.25M573.40 375.05V378.25M641.80 375.05V378.25M65.5 222.60H68.9M65.5 298.40H68.9" stroke="#333" stroke-width="1.1" fill="none"/>
<text x="88.80" y="370.50" text-anchor="middle" class="tk">0.246</text>
<text x="157.20" y="370.50" text-anchor="middle" class="tk">0.247</text>
<text x="227.10" y="370.50" text-anchor="middle" class="tk">0.248</text>
<text x="295.50" y="370.50" text-anchor="middle" class="tk">0.249</text>
<text x="365.20" y="370.50" text-anchor="middle" class="tk">0.250</text>
<text x="433.85" y="370.50" text-anchor="middle" class="tk">0.251</text>
<text x="503.30" y="370.50" text-anchor="middle" class="tk">0.252</text>
<text x="573.10" y="370.50" text-anchor="middle" class="tk">0.253</text>
<text x="641.50" y="370.50" text-anchor="middle" class="tk">0.254</text>
<text x="72.8" y="232.80" class="tk" style="font-size:9.4px">1</text>
<text x="72.7" y="301.10" class="tk" style="font-size:9.8px">0</text>
<rect x="67.00" y="202.90" width="8" height="8" fill="#0072BD"/>
<text x="79.60" y="211.10" class="lg">Space Vector Generator:1</text>
<rect x="231.80" y="202.90" width="8" height="8" fill="#D95319"/>
<text x="244.40" y="211.10" class="lg">Space Vector Generator:2</text>
<rect x="396.60" y="202.90" width="8" height="8" fill="#EDB120"/>
<text x="409.20" y="211.10" class="lg">Space Vector Generator:3</text>
<rect x="64.8" y="380.90" width="600.40" height="29.50" fill="#f9f9f9"/>
<rect x="65" y="409.90" width="600" height="159.05" fill="#fff"/>
<path d="M89.10 409.90V568.95M157.50 409.90V568.95M227.40 409.90V568.95M295.80 409.90V568.95M365.50 409.90V568.95M434.15 409.90V568.95M503.60 409.90V568.95M573.40 409.90V568.95M641.80 409.90V568.95" stroke="#d8dadc" stroke-width="1.4" fill="none"/>
<path d="M65 413.50H665M65 489.30H665M65 565.50H665" stroke="#dadcde" stroke-width="1.5" fill="none"/>
<rect x="76.10" y="552.80" width="26" height="10" fill="#fff"/>
<rect x="144.50" y="552.80" width="26" height="10" fill="#fff"/>
<rect x="214.40" y="552.80" width="26" height="10" fill="#fff"/>
<rect x="282.80" y="552.80" width="26" height="10" fill="#fff"/>
<rect x="352.50" y="552.80" width="26" height="10" fill="#fff"/>
<rect x="421.15" y="552.80" width="26" height="10" fill="#fff"/>
<rect x="490.60" y="552.80" width="26" height="10" fill="#fff"/>
<rect x="560.40" y="552.80" width="26" height="10" fill="#fff"/>
<rect x="628.80" y="552.80" width="26" height="10" fill="#fff"/>
<rect x="69.2" y="484.40" width="9.4" height="9.6" fill="#fff"/>
<path d="M66.30 521.35L68.32 520.40L68.32 515.65L71.77 513.75L71.78 509.00L75.23 507.10L75.23 502.35L78.68 500.45L78.69 494.75L82.14 493.80L82.14 488.10L85.59 486.20L85.59 481.45L89.05 479.55L89.05 474.80L92.50 472.90L92.50 468.15L95.96 466.25L95.96 461.50L99.41 459.60L99.41 454.85L102.87 452.95L102.87 448.20L106.33 447.25L106.32 442.50L109.78 441.55L109.78 440.60L113.23 439.65L113.23 438.70L116.69 438.70L116.69 437.75L120.14 437.75L120.14 436.80L123.60 435.85L123.60 435.85L127.05 435.85L127.06 434.90L130.51 434.90L130.51 434.90L133.97 434.90L133.97 434.90L137.42 434.90L137.42 435.85L140.88 435.85L140.88 435.85L144.33 435.85L144.33 436.80L147.78 436.80L147.78 437.75L151.24 438.70L151.24 439.65L154.70 439.65L154.69 441.55L158.15 441.55L158.15 441.55L161.60 440.60L161.61 439.65L165.06 439.65L165.06 438.70L168.52 437.75L168.51 436.80L171.97 436.80L171.97 435.85L175.43 435.85L175.43 435.85L178.88 435.85L178.88 434.90L182.34 434.90L182.33 434.90L185.79 434.90L185.79 435.85L189.25 435.85L189.25 435.85L192.70 435.85L192.70 436.80L196.16 436.80L196.16 437.75L199.61 437.75L199.61 438.70L203.07 439.65L203.06 440.60L206.52 441.55L206.52 442.50L209.97 444.40L209.97 449.15L213.43 450.10L213.43 454.85L216.89 456.75L216.88 461.50L220.34 463.40L220.34 468.15L223.79 469.10L223.80 474.80L227.25 475.75L227.25 481.45L230.71 483.35L230.70 488.10L234.16 490.00L234.16 494.75L237.62 496.65L237.62 501.40L241.07 503.30L241.07 508.05L244.53 509.95L244.52 514.70L247.98 516.60L247.98 521.35L251.44 523.25L251.44 528.00L254.89 528.95L254.89 533.70L258.34 534.65L258.35 537.50L261.80 537.50L261.80 538.45L265.25 539.40L265.25 540.35L268.71 540.35L268.71 541.30L272.16 541.30L272.17 542.25L275.62 542.25L275.62 543.20L279.07 543.20L279.07 543.20L282.53 543.20L282.53 543.20L285.99 543.20L285.99 543.20L289.44 542.25L289.44 542.25L292.89 542.25L292.89 541.30L296.35 541.30L296.35 540.35L299.81 540.35L299.81 539.40L303.26 538.45L303.26 537.50L306.71 536.55L306.71 536.55L310.17 536.55L310.17 537.50L313.62 538.45L313.62 539.40L317.08 539.40L317.08 540.35L320.53 541.30L320.54 541.30L323.99 542.25L323.99 542.25L327.44 542.25L327.44 543.20L330.90 543.20L330.90 543.20L334.35 543.20L334.36 543.20L337.81 543.20L337.81 542.25L341.26 542.25L341.26 541.30L344.72 541.30L344.72 540.35L348.18 540.35L348.18 539.40L351.63 539.40L351.63 538.45L355.08 537.50L355.09 536.55L358.54 535.60L358.54 531.80L362.00 529.90L362.00 525.15L365.45 524.20L365.45 519.45L368.90 517.55L368.91 512.80L372.36 510.90L372.36 506.15L375.81 504.25L375.81 499.50L379.27 497.60L379.27 492.85L382.73 490.95L382.73 486.20L386.18 484.30L386.18 479.55L389.63 477.65L389.63 472.90L393.09 471.00L393.09 466.25L396.55 464.35L396.55 459.60L400.00 457.70L400.00 452.95L403.45 452.00L403.46 447.25L406.91 446.30L406.91 442.50L410.37 442.50L410.37 440.60L413.82 440.60L413.82 439.65L417.27 438.70L417.28 437.75L420.73 437.75L420.73 436.80L424.19 436.80L424.19 436.80L427.64 436.80L427.64 435.85L431.10 435.85L431.10 435.85L434.55 435.85L434.55 435.85L438.00 435.85L438.00 436.80L441.46 436.80L441.46 437.75L444.92 437.75L444.92 438.70L448.37 438.70L448.37 439.65L451.82 439.65L451.83 441.55L455.28 441.55L455.28 442.50L458.74 443.45L458.74 441.55L462.19 441.55L462.19 439.65L465.64 439.65L465.65 438.70L469.10 438.70L469.10 437.75L472.56 437.75L472.56 436.80L476.01 436.80L476.01 436.80L479.47 436.80L479.47 435.85L482.92 435.85L482.92 435.85L486.38 435.85L486.38 436.80L489.83 436.80L489.83 436.80L493.29 437.75L493.29 437.75L496.74 438.70L496.74 438.70L500.19 439.65L500.19 440.60L503.65 440.60L503.65 442.50L507.11 442.50L507.11 445.35L510.56 447.25L510.56 452.00L514.01 452.95L514.01 457.70L517.47 459.60L517.47 464.35L520.93 465.30L520.92 471.00L524.38 471.95L524.38 476.70L527.84 478.60L527.84 483.35L531.29 485.25L531.29 490.00L534.75 491.90L534.75 496.65L538.20 498.55L538.20 503.30L541.66 505.20L541.65 509.95L545.11 511.85L545.11 516.60L548.57 518.50L548.56 523.25L552.02 524.20L552.02 528.95L555.48 529.90L555.48 534.65L558.93 535.60L558.93 536.55L562.38 537.50L562.38 538.45L565.84 538.45L565.84 539.40L569.30 540.35L569.29 540.35L572.75 541.30L572.75 541.30L576.21 541.30L576.21 542.25L579.66 542.25L579.66 542.25L583.12 542.25L583.12 542.25L586.57 542.25L586.57 541.30L590.02 541.30L590.02 541.30L593.48 541.30L593.48 540.35L596.94 540.35L596.93 539.40L600.39 538.45L600.39 537.50L603.85 537.50L603.84 535.60L607.30 535.60L607.30 535.60L610.75 536.55L610.75 537.50L614.21 537.50L614.21 539.40L617.66 539.40L617.66 540.35L621.12 540.35L621.12 541.30L624.58 541.30L624.57 541.30L628.03 541.30L628.03 542.25L631.49 542.25L631.49 542.25L634.94 542.25L634.94 541.30L638.39 541.30L638.39 541.30L641.85 541.30L641.85 540.35L645.30 540.35L645.30 539.40L648.76 539.40L648.76 538.45L652.22 537.50L652.21 536.55L655.67 536.55L655.67 534.65L659.12 532.75L659.12 528.95L662.58 527.05L662.58 522.30L663.90 522.30" stroke="#3f98d3" stroke-width="1.6" fill="none" stroke-linejoin="round"/>
<path d="M66.30 540.35L68.32 540.35L68.32 541.30L71.77 542.25L71.78 542.25L75.23 543.20L75.23 543.20L78.68 543.20L78.69 543.20L82.14 544.15L82.14 544.15L85.59 544.15L85.59 543.20L89.05 543.20L89.05 543.20L92.50 543.20L92.50 542.25L95.96 542.25L95.96 541.30L99.41 541.30L99.41 540.35L102.87 539.40L102.87 538.45L106.33 537.50L106.32 536.55L109.78 536.55L109.78 538.45L113.23 538.45L113.23 539.40L116.69 540.35L116.69 541.30L120.14 541.30L120.14 542.25L123.60 542.25L123.60 543.20L127.05 543.20L127.06 543.20L130.51 543.20L130.51 543.20L133.97 543.20L133.97 543.20L137.42 543.20L137.42 543.20L140.88 543.20L140.88 542.25L144.33 542.25L144.33 541.30L147.78 541.30L147.78 540.35L151.24 540.35L151.24 539.40L154.70 538.45L154.69 537.50L158.15 536.55L158.15 533.70L161.60 531.80L161.61 527.05L165.06 526.10L165.06 521.35L168.52 519.45L168.51 514.70L171.97 512.80L171.97 508.05L175.43 506.15L175.43 501.40L178.88 499.50L178.88 494.75L182.34 492.85L182.33 487.15L185.79 486.20L185.79 480.50L189.25 479.55L189.25 473.85L192.70 471.95L192.70 467.20L196.16 465.30L196.16 460.55L199.61 459.60L199.61 454.85L203.07 452.95L203.06 448.20L206.52 446.30L206.52 442.50L209.97 441.55L209.97 440.60L213.43 440.60L213.43 438.70L216.89 438.70L216.88 437.75L220.34 437.75L220.34 436.80L223.79 436.80L223.80 435.85L227.25 435.85L227.25 435.85L230.71 435.85L230.70 434.90L234.16 434.90L234.16 435.85L237.62 435.85L237.62 435.85L241.07 435.85L241.07 436.80L244.53 436.80L244.52 437.75L247.98 437.75L247.98 438.70L251.44 438.70L251.44 440.60L254.89 440.60L254.89 441.55L258.34 442.50L258.35 441.55L261.80 441.55L261.80 439.65L265.25 439.65L265.25 438.70L268.71 437.75L268.71 437.75L272.16 436.80L272.17 436.80L275.62 435.85L275.62 435.85L279.07 435.85L279.07 435.85L282.53 435.85L282.53 435.85L285.99 435.85L285.99 435.85L289.44 435.85L289.44 436.80L292.89 436.80L292.89 436.80L296.35 437.75L296.35 438.70L299.81 438.70L299.81 439.65L303.26 439.65L303.26 441.55L306.71 441.55L306.71 443.45L310.17 445.35L310.17 450.10L313.62 451.05L313.62 455.80L317.08 457.70L317.08 462.45L320.53 463.40L320.54 469.10L323.99 470.05L323.99 475.75L327.44 476.70L327.44 482.40L330.90 483.35L330.90 489.05L334.35 490.95L334.36 495.70L337.81 497.60L337.81 502.35L341.26 504.25L341.26 509.00L344.72 510.90L344.72 515.65L348.18 516.60L348.18 521.35L351.63 523.25L351.63 528.00L355.08 529.90L355.09 533.70L358.54 535.60L358.54 536.55L362.00 537.50L362.00 538.45L365.45 539.40L365.45 540.35L368.90 540.35L368.91 541.30L372.36 541.30L372.36 542.25L375.81 542.25L375.81 542.25L379.27 542.25L379.27 543.20L382.73 543.20L382.73 543.20L386.18 542.25L386.18 542.25L389.63 542.25L389.63 542.25L393.09 541.30L393.09 541.30L396.55 540.35L396.55 540.35L400.00 539.40L400.00 538.45L403.45 538.45L403.46 536.55L406.91 536.55L406.91 535.60L410.37 536.55L410.37 537.50L413.82 538.45L413.82 539.40L417.27 539.40L417.28 540.35L420.73 540.35L420.73 541.30L424.19 541.30L424.19 542.25L427.64 542.25L427.64 542.25L431.10 542.25L431.10 542.25L434.55 542.25L434.55 542.25L438.00 542.25L438.00 542.25L441.46 542.25L441.46 541.30L444.92 541.30L444.92 540.35L448.37 540.35L448.37 539.40L451.82 538.45L451.83 537.50L455.28 537.50L455.28 535.60L458.74 534.65L458.74 530.85L462.19 528.95L462.19 524.20L465.64 523.25L465.65 518.50L469.10 516.60L469.10 511.85L472.56 509.95L472.56 505.20L476.01 503.30L476.01 498.55L479.47 496.65L479.47 491.90L482.92 490.00L482.92 485.25L486.38 483.35L486.38 478.60L489.83 476.70L489.83 471.95L493.29 470.05L493.29 465.30L496.74 464.35L496.74 459.60L500.19 457.70L500.19 452.95L503.65 451.05L503.65 447.25L507.11 445.35L507.11 442.50L510.56 442.50L510.56 440.60L514.01 440.60L514.01 439.65L517.47 439.65L517.47 438.70L520.93 437.75L520.92 437.75L524.38 436.80L524.38 436.80L527.84 436.80L527.84 436.80L531.29 436.80L531.29 436.80L534.75 436.80L534.75 436.80L538.20 436.80L538.20 436.80L541.66 436.80L541.65 437.75L545.11 437.75L545.11 438.70L548.57 438.70L548.56 439.65L552.02 440.60L552.02 441.55L555.48 441.55L555.48 443.45L558.93 443.45L558.93 441.55L562.38 441.55L562.38 440.60L565.84 439.65L565.84 438.70L569.30 438.70L569.29 437.75L572.75 437.75L572.75 436.80L576.21 436.80L576.21 436.80L579.66 436.80L579.66 436.80L583.12 436.80L583.12 436.80L586.57 436.80L586.57 436.80L590.02 436.80L590.02 437.75L593.48 437.75L593.48 438.70L596.94 438.70L596.93 439.65L600.39 439.65L600.39 440.60L603.85 441.55L603.84 442.50L607.30 443.45L607.30 446.30L610.75 448.20L610.75 452.95L614.21 453.90L614.21 458.65L617.66 460.55L617.66 465.30L621.12 466.25L621.12 471.00L624.58 472.90L624.57 477.65L628.03 479.55L628.03 484.30L631.49 486.20L631.49 490.95L634.94 492.85L634.94 497.60L638.39 499.50L638.39 504.25L641.85 506.15L641.85 510.90L645.30 511.85L645.30 517.55L648.76 518.50L648.76 523.25L652.22 525.15L652.21 528.95L655.67 530.85L655.67 534.65L659.12 535.60L659.12 536.55L662.58 537.50L662.58 538.45L663.90 538.45" stroke="#e57e56" stroke-width="1.6" fill="none" stroke-linejoin="round"/>
<path d="M66.30 437.75L68.32 437.75L68.32 436.80L71.77 436.80L71.78 435.85L75.23 435.85L75.23 434.90L78.68 434.90L78.69 434.90L82.14 434.90L82.14 434.90L85.59 434.90L85.59 434.90L89.05 434.90L89.05 435.85L92.50 435.85L92.50 435.85L95.96 436.80L95.96 437.75L99.41 437.75L99.41 438.70L102.87 438.70L102.87 440.60L106.33 440.60L106.32 442.50L109.78 443.45L109.78 448.20L113.23 449.15L113.23 453.90L116.69 455.80L116.69 460.55L120.14 462.45L120.14 467.20L123.60 469.10L123.60 473.85L127.05 475.75L127.06 480.50L130.51 482.40L130.51 487.15L133.97 489.05L133.97 493.80L137.42 495.70L137.42 500.45L140.88 502.35L140.88 508.05L144.33 509.00L144.33 514.70L147.78 515.65L147.78 520.40L151.24 522.30L151.24 527.05L154.70 528.95L154.69 532.75L158.15 534.65L158.15 537.50L161.60 537.50L161.61 538.45L165.06 539.40L165.06 540.35L168.52 540.35L168.51 541.30L171.97 541.30L171.97 542.25L175.43 542.25L175.43 543.20L178.88 543.20L178.88 543.20L182.34 543.20L182.33 543.20L185.79 543.20L185.79 543.20L189.25 543.20L189.25 542.25L192.70 542.25L192.70 542.25L196.16 541.30L196.16 540.35L199.61 540.35L199.61 539.40L203.07 539.40L203.06 537.50L206.52 537.50L206.52 536.55L209.97 536.55L209.97 538.45L213.43 538.45L213.43 539.40L216.89 540.35L216.88 541.30L220.34 541.30L220.34 542.25L223.79 542.25L223.80 542.25L227.25 543.20L227.25 543.20L230.71 543.20L230.70 543.20L234.16 543.20L234.16 543.20L237.62 543.20L237.62 543.20L241.07 542.25L241.07 542.25L244.53 542.25L244.52 541.30L247.98 541.30L247.98 540.35L251.44 539.40L251.44 538.45L254.89 538.45L254.89 536.55L258.34 536.55L258.35 532.75L261.80 530.85L261.80 526.10L265.25 525.15L265.25 520.40L268.71 518.50L268.71 513.75L272.16 511.85L272.17 507.10L275.62 505.20L275.62 500.45L279.07 498.55L279.07 493.80L282.53 491.90L282.53 487.15L285.99 485.25L285.99 479.55L289.44 478.60L289.44 472.90L292.89 471.95L292.89 466.25L296.35 465.30L296.35 460.55L299.81 458.65L299.81 453.90L303.26 452.00L303.26 448.20L306.71 446.30L306.71 442.50L310.17 442.50L310.17 440.60L313.62 440.60L313.62 439.65L317.08 438.70L317.08 437.75L320.53 437.75L320.54 436.80L323.99 436.80L323.99 435.85L327.44 435.85L327.44 435.85L330.90 435.85L330.90 435.85L334.35 435.85L334.36 435.85L337.81 435.85L337.81 435.85L341.26 436.80L341.26 436.80L344.72 436.80L344.72 437.75L348.18 437.75L348.18 438.70L351.63 439.65L351.63 440.60L355.08 440.60L355.09 442.50L358.54 442.50L358.54 441.55L362.00 441.55L362.00 439.65L365.45 439.65L365.45 438.70L368.90 438.70L368.91 437.75L372.36 437.75L372.36 436.80L375.81 436.80L375.81 435.85L379.27 435.85L379.27 435.85L382.73 435.85L382.73 435.85L386.18 435.85L386.18 435.85L389.63 435.85L389.63 436.80L393.09 436.80L393.09 437.75L396.55 437.75L396.55 438.70L400.00 438.70L400.00 439.65L403.45 440.60L403.46 441.55L406.91 442.50L406.91 444.40L410.37 446.30L410.37 451.05L413.82 452.00L413.82 456.75L417.27 458.65L417.28 463.40L420.73 464.35L420.73 470.05L424.19 471.00L424.19 476.70L427.64 477.65L427.64 483.35L431.10 484.30L431.10 490.00L434.55 490.95L434.55 496.65L438.00 497.60L438.00 503.30L441.46 504.25L441.46 509.95L444.92 510.90L444.92 515.65L448.37 517.55L448.37 522.30L451.82 524.20L451.83 528.00L455.28 529.90L455.28 534.65L458.74 535.60L458.74 536.55L462.19 537.50L462.19 538.45L465.64 538.45L465.65 539.40L469.10 540.35L469.10 541.30L472.56 541.30L472.56 541.30L476.01 542.25L476.01 542.25L479.47 542.25L479.47 542.25L482.92 542.25L482.92 542.25L486.38 542.25L486.38 542.25L489.83 542.25L489.83 541.30L493.29 541.30L493.29 540.35L496.74 540.35L496.74 539.40L500.19 539.40L500.19 538.45L503.65 537.50L503.65 536.55L507.11 535.60L507.11 535.60L510.56 536.55L510.56 537.50L514.01 538.45L514.01 539.40L517.47 539.40L517.47 540.35L520.93 540.35L520.92 541.30L524.38 541.30L524.38 542.25L527.84 542.25L527.84 542.25L531.29 542.25L531.29 542.25L534.75 542.25L534.75 542.25L538.20 542.25L538.20 541.30L541.66 541.30L541.65 541.30L545.11 540.35L545.11 539.40L548.57 539.40L548.56 538.45L552.02 538.45L552.02 536.55L555.48 536.55L555.48 535.60L558.93 533.70L558.93 529.90L562.38 528.00L562.38 523.25L565.84 522.30L565.84 517.55L569.30 515.65L569.29 510.90L572.75 509.00L572.75 504.25L576.21 502.35L576.21 497.60L579.66 495.70L579.66 490.95L583.12 490.00L583.12 484.30L586.57 483.35L586.57 477.65L590.02 476.70L590.02 471.00L593.48 470.05L593.48 465.30L596.94 463.40L596.93 458.65L600.39 456.75L600.39 452.00L603.85 451.05L603.84 446.30L607.30 445.35L607.30 442.50L610.75 442.50L610.75 440.60L614.21 440.60L614.21 439.65L617.66 439.65L617.66 438.70L621.12 438.70L621.12 437.75L624.58 437.75L624.57 436.80L628.03 436.80L628.03 436.80L631.49 436.80L631.49 436.80L634.94 436.80L634.94 436.80L638.39 436.80L638.39 437.75L641.85 437.75L641.85 437.75L645.30 438.70L645.30 439.65L648.76 439.65L648.76 440.60L652.22 440.60L652.21 442.50L655.67 442.50L655.67 443.45L659.12 443.45L659.12 441.55L662.58 441.55L662.58 440.60L663.90 440.60" stroke="#f2c34e" stroke-width="1.6" fill="none" stroke-linejoin="round"/>
<path d="M64.8 410.65H665.1" stroke="#505353" stroke-width="1.5" fill="none"/>
<path d="M65.5 409.90V569.75M664.4 409.90V569.75" stroke="#242727" stroke-width="1.15" fill="none"/>
<path d="M64.8 568.95H665.1" stroke="#4d4d4d" stroke-width="1.7" fill="none"/>
<path d="M89.10 565.75V568.95M157.50 565.75V568.95M227.40 565.75V568.95M295.80 565.75V568.95M365.50 565.75V568.95M434.15 565.75V568.95M503.60 565.75V568.95M573.40 565.75V568.95M641.80 565.75V568.95M65.5 413.50H68.9M65.5 489.30H68.9" stroke="#333" stroke-width="1.1" fill="none"/>
<text x="88.80" y="561.40" text-anchor="middle" class="tk">0.246</text>
<text x="157.20" y="561.40" text-anchor="middle" class="tk">0.247</text>
<text x="227.10" y="561.40" text-anchor="middle" class="tk">0.248</text>
<text x="295.50" y="561.40" text-anchor="middle" class="tk">0.249</text>
<text x="365.20" y="561.40" text-anchor="middle" class="tk">0.250</text>
<text x="433.85" y="561.40" text-anchor="middle" class="tk">0.251</text>
<text x="503.30" y="561.40" text-anchor="middle" class="tk">0.252</text>
<text x="573.10" y="561.40" text-anchor="middle" class="tk">0.253</text>
<text x="641.50" y="561.40" text-anchor="middle" class="tk">0.254</text>
<text x="72.8" y="423.70" class="tk" style="font-size:9.4px">1</text>
<text x="72.7" y="492.00" class="tk" style="font-size:9.8px">0</text>
<rect x="67.00" y="393.80" width="8" height="8" fill="#0072BD"/>
<text x="79.60" y="402.00" class="lg">Space Vector Generator:1</text>
<rect x="231.80" y="393.80" width="8" height="8" fill="#D95319"/>
<text x="244.40" y="402.00" class="lg">Space Vector Generator:2</text>
<rect x="396.60" y="393.80" width="8" height="8" fill="#EDB120"/>
<text x="409.20" y="402.00" class="lg">Space Vector Generator:3</text>
<text x="15.05" y="58.70" textLength="29.70" lengthAdjust="spacingAndGlyphs" class="sd">Motor</text>
<text x="12.05" y="75.60" textLength="35.70" lengthAdjust="spacingAndGlyphs" class="sd">Control</text>
<text x="9.85" y="92.50" textLength="39.90" lengthAdjust="spacingAndGlyphs" class="sd">Blockset</text>
<text x="10.95" y="108.90" textLength="37.90" lengthAdjust="spacingAndGlyphs" class="sd">average</text>
<text x="10.95" y="125.30" textLength="37.70" lengthAdjust="spacingAndGlyphs" class="sd">inverter</text>
<path d="M15.80 135.40H39.50V131.40L48.10 139.40L39.50 147.40V143.40H15.80Z" fill="#4472C4"/>
<text x="8.95" y="263.70" textLength="45.30" lengthAdjust="spacingAndGlyphs" class="sd">Simscape</text>
<text x="10.05" y="280.60" textLength="43.80" lengthAdjust="spacingAndGlyphs" class="sd">Electrical</text>
<text x="12.75" y="297.50" textLength="37.00" lengthAdjust="spacingAndGlyphs" class="sd">3 phase</text>
<text x="8.25" y="313.90" textLength="46.30" lengthAdjust="spacingAndGlyphs" class="sd">converter</text>
<path d="M15.80 327.20H39.50V323.20L48.10 331.20L39.50 339.20V335.20H15.80Z" fill="#4472C4"/>
<text x="7.75" y="452.60" textLength="44.90" lengthAdjust="spacingAndGlyphs" class="sd">Simscape</text>
<text x="8.95" y="469.50" textLength="43.10" lengthAdjust="spacingAndGlyphs" class="sd">Electrical</text>
<text x="9.85" y="486.40" textLength="40.60" lengthAdjust="spacingAndGlyphs" class="sd">Modular</text>
<text x="6.45" y="502.80" textLength="47.80" lengthAdjust="spacingAndGlyphs" class="sd">Multilevel</text>
<text x="7.15" y="519.60" textLength="46.20" lengthAdjust="spacingAndGlyphs" class="sd">converter</text>
<path d="M18.70 531.30H42.60V527.30L51.20 535.30L42.60 543.30V539.30H18.70Z" fill="#4472C4"/>
</svg>
</body></html>
